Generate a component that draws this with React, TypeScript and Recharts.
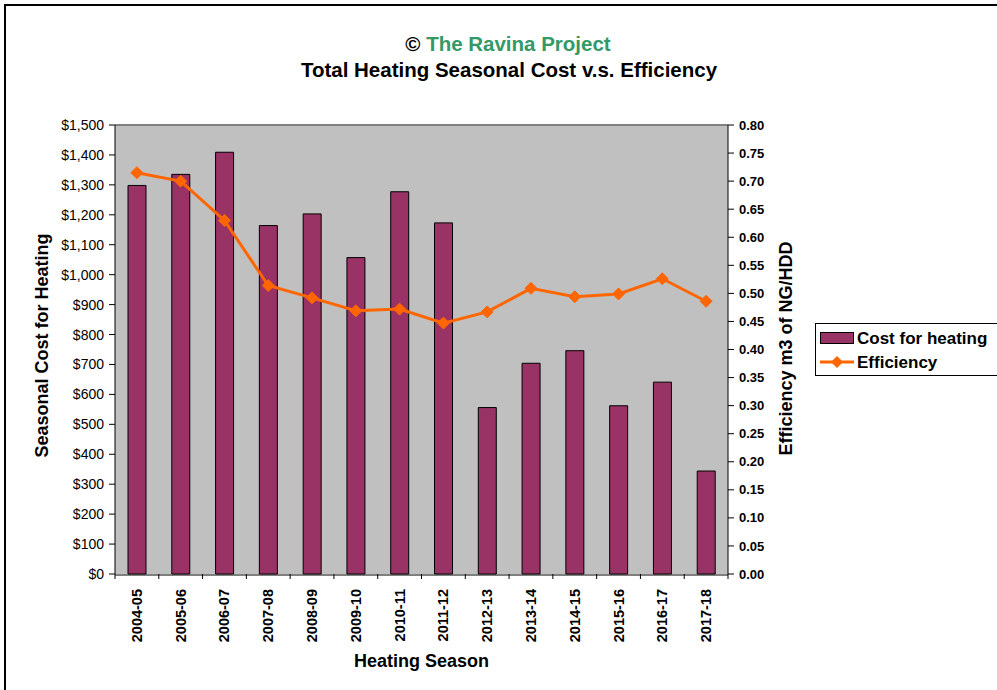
import React from 'react';
import {
  ComposedChart,
  Bar,
  Line,
  XAxis,
  YAxis,
  CartesianGrid,
  ReferenceLine
} from 'recharts';

const seasons = [
  '2004-05', '2005-06', '2006-07', '2007-08', '2008-09', '2009-10', '2010-11',
  '2011-12', '2012-13', '2013-14', '2014-15', '2015-16', '2016-17', '2017-18'
];
const heatingCost = [1298, 1335, 1409, 1164, 1203, 1057, 1277, 1173, 556, 704, 746, 562, 641, 344];
const efficiency = [0.715, 0.7, 0.63, 0.514, 0.492, 0.469, 0.472, 0.447, 0.467, 0.509, 0.494, 0.499, 0.526, 0.486];
const costTicks = [0, 100, 200, 300, 400, 500, 600, 700, 800, 900, 1000, 1100, 1200, 1300, 1400, 1500];
const effTicks = [0, 0.05, 0.1, 0.15, 0.2, 0.25, 0.3, 0.35, 0.4, 0.45, 0.5, 0.55, 0.6, 0.65, 0.7, 0.75, 0.8];
// category boundaries for the tick marks between seasons
const seasonEdges = [0, 1, 2, 3, 4, 5, 6, 7, 8, 9, 10, 11, 12, 13, 14];

const data = seasons.map((season, i) => ({
  season,
  pos: i + 0.5,
  cost: heatingCost[i],
  efficiency: efficiency[i]
}));

const FONT = '"Liberation Sans", Arial, sans-serif';
const BAR_COLOR = '#993366';
const LINE_COLOR = '#FF6600';

const money = (v: number) => '$' + v.toLocaleString('en-US');

const SeasonTick = (props: any) => {
  const { x, y, payload } = props;
  const tx = x + 5;
  const ty = y + 6;
  return (
    <text
      x={tx}
      y={ty}
      transform={`rotate(-90, ${tx}, ${ty})`}
      textAnchor="end"
      fontFamily={FONT}
      fontSize={14.5}
      fontWeight="bold"
      fill="#000"
    >
      {payload.value}
    </text>
  );
};

const Diamond = (props: any) => {
  const { cx, cy, index } = props;
  const r = 6;
  return (
    <path
      key={'d' + index}
      d={`M${cx},${cy - r}L${cx + r},${cy}L${cx},${cy + r}L${cx - r},${cy}Z`}
      fill={LINE_COLOR}
      stroke={LINE_COLOR}
    />
  );
};

const LeftTitle = (props: any) => {
  const { viewBox } = props;
  const x = viewBox.x + 13;
  const y = viewBox.y + viewBox.height / 2 - 4;
  return (
    <text x={x} y={y} transform={`rotate(-90, ${x}, ${y})`} textAnchor="middle"
      fontFamily={FONT} fontSize={18} fontWeight="bold" fill="#000">
      Seasonal Cost for Heating
    </text>
  );
};

const RightTitle = (props: any) => {
  const { viewBox } = props;
  const x = viewBox.x + 64;
  const y = viewBox.y + viewBox.height / 2 - 1;
  return (
    <text x={x} y={y} transform={`rotate(-90, ${x}, ${y})`} textAnchor="middle"
      fontFamily={FONT} fontSize={18} fontWeight="bold" fill="#000">
      Efficiency m3 of NG/HDD
    </text>
  );
};

export default function App() {
  return (
    <div style={{ position: 'relative', width: 997, height: 690, overflow: 'hidden', background: '#fff' }}>
      <style>{'body{margin:0;overflow:hidden}'}</style>
      <div
        style={{
          position: 'absolute', left: 4, top: 4, width: 1100, height: 800,
          border: '2px solid #000'
        }}
      />
      <div style={{ position: 'absolute', left: 0, top: 32, width: 1016, textAlign: 'center',
        fontFamily: FONT, fontWeight: 'bold', fontSize: 20.5, lineHeight: '24px' }}>
        <span style={{ color: '#000' }}>© </span>
        <span style={{ color: '#339966' }}>The Ravina Project</span>
      </div>
      <div style={{ position: 'absolute', left: 0, top: 58, width: 1018, textAlign: 'center',
        fontFamily: FONT, fontWeight: 'bold', fontSize: 20.5, lineHeight: '24px', color: '#000' }}>
        Total Heating Seasonal Cost v.s. Efficiency
      </div>

      <div style={{ position: 'absolute', left: 0, top: 0 }}>
        <ComposedChart
          width={997}
          height={690}
          data={data}
          margin={{ top: 125, right: 199, left: 35, bottom: 16 }}
        >
          <CartesianGrid horizontal={false} vertical={false} fill="#C0C0C0" yAxisId="cost" xAxisId="season" />
          <XAxis
            xAxisId="edges"
            dataKey="pos"
            type="number"
            domain={[0, 14]}
            ticks={seasonEdges}
            interval={0}
            allowDataOverflow
            height={1}
            axisLine={false}
            tick={() => <g />}
            tickSize={5}
            tickLine={{ stroke: '#000' }}
          />
          <XAxis
            xAxisId="season"
            dataKey="season"
            height={99}
            interval={0}
            axisLine={{ stroke: '#000' }}
            tickLine={false}
            tick={<SeasonTick />}
            label={{
              value: 'Heating Season',
              position: 'insideBottom',
              offset: 7,
              style: { fontFamily: FONT, fontSize: 18, fontWeight: 'bold', fill: '#000' }
            }}
          />
          <YAxis
            yAxisId="cost"
            width={80}
            domain={[0, 1500]}
            ticks={costTicks}
            interval={0}
            tickFormatter={money}
            tickSize={6}
            tickMargin={5}
            axisLine={{ stroke: '#000' }}
            tickLine={{ stroke: '#000' }}
            tick={{ fontFamily: FONT, fontSize: 14, fill: '#000' }}
            label={<LeftTitle />}
          />
          <YAxis
            yAxisId="eff"
            orientation="right"
            width={70}
            domain={[0, 0.8]}
            ticks={effTicks}
            interval={0}
            tickFormatter={(v: number) => v.toFixed(2)}
            tickSize={6}
            tickMargin={5}
            axisLine={{ stroke: '#000' }}
            tickLine={{ stroke: '#000' }}
            tick={{ fontFamily: FONT, fontSize: 13, fontWeight: 'bold', fill: '#000' }}
            label={<RightTitle />}
          />
          <ReferenceLine y={1500} yAxisId="cost" xAxisId="season" stroke="#808080" strokeWidth={2} />
          <Bar
            dataKey="cost"
            name="Cost for heating"
            xAxisId="season"
            yAxisId="cost"
            barSize={18}
            fill={BAR_COLOR}
            stroke="#000"
            strokeWidth={1}
            isAnimationActive={false}
          />
          <Line
            dataKey="efficiency"
            name="Efficiency"
            xAxisId="season"
            yAxisId="eff"
            type="linear"
            stroke={LINE_COLOR}
            strokeWidth={3}
            dot={Diamond}
            activeDot={false}
            isAnimationActive={false}
          />
        </ComposedChart>
      </div>

      <div
        style={{
          position: 'absolute', left: 815, top: 323, width: 190, height: 51,
          border: '1px solid #000', background: '#fff', fontFamily: FONT,
          fontWeight: 'bold', fontSize: 17, color: '#000'
        }}
      >
        <div style={{ position: 'absolute', left: 4, top: 8, width: 32, height: 10, background: BAR_COLOR, border: '1px solid #000' }} />
        <div style={{ position: 'absolute', left: 41, top: 5, lineHeight: '20px' }}>Cost for heating</div>
        <svg style={{ position: 'absolute', left: 4, top: 31 }} width={34} height={14}>
          <line x1={0} y1={7} x2={34} y2={7} stroke={LINE_COLOR} strokeWidth={3} />
          <path d="M17,1L23,7L17,13L11,7Z" fill={LINE_COLOR} />
        </svg>
        <div style={{ position: 'absolute', left: 41, top: 29, lineHeight: '20px' }}>Efficiency</div>
      </div>
    </div>
  );
}
